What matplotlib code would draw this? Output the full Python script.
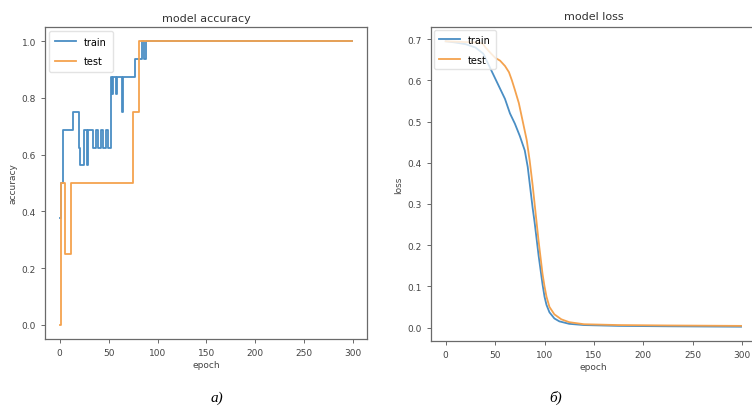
import matplotlib
matplotlib.use("Agg")
import matplotlib.pyplot as plt

# accuracy: epochs where the value changes, and the value from that epoch on
train_acc_epochs = [0, 1, 3, 14, 20, 21, 25, 28, 29, 32, 34, 37, 39, 42, 44, 47, 49, 52,
                    54, 55, 58, 59, 64, 65, 77, 84, 86, 88, 299]
train_acc_values = [0.375, 0.5, 0.6875, 0.75, 0.625, 0.5625, 0.6875, 0.5625, 0.6875, 0.6875,
                    0.625, 0.6875, 0.625, 0.6875, 0.625, 0.6875, 0.625, 0.875,
                    0.8125, 0.875, 0.8125, 0.875, 0.75, 0.875, 0.9375, 1.0, 0.9375, 1.0, 1.0]
test_acc_epochs = [0, 1, 6, 12, 75, 81, 299]
test_acc_values = [0.0, 0.5, 0.25, 0.5, 0.75, 1.0, 1.0]

# loss
train_loss_epochs = [0, 10, 20, 30, 38, 44, 50, 55, 60, 65, 70, 75, 80, 83, 86, 88, 90, 92,
                     94, 96, 98, 100, 102, 105, 110, 115, 125, 140, 175, 225, 299]
train_loss_values = [0.695, 0.692, 0.688, 0.68, 0.665, 0.635, 0.605, 0.58, 0.555, 0.52, 0.495,
                     0.465, 0.43, 0.39, 0.33, 0.29, 0.255, 0.215, 0.175, 0.14, 0.105, 0.075,
                     0.055, 0.037, 0.022, 0.015, 0.009, 0.006, 0.004, 0.003, 0.002]
test_loss_epochs = [0, 10, 20, 30, 37, 41, 46, 50, 55, 60, 64, 67, 70, 74, 78, 82, 85, 88, 90,
                    92, 94, 96, 98, 100, 102, 105, 110, 117, 125, 140, 175, 225, 299]
test_loss_values = [0.695, 0.694, 0.693, 0.692, 0.69, 0.678, 0.665, 0.655, 0.648, 0.635, 0.62,
                    0.6, 0.577, 0.545, 0.5, 0.455, 0.405, 0.345, 0.3, 0.255, 0.21, 0.17, 0.13,
                    0.1, 0.075, 0.05, 0.032, 0.02, 0.013, 0.008, 0.006, 0.005, 0.004]

x_ticks = [0, 50, 100, 150, 200, 250, 300]
blue = "#4a8ec4"
orange = "#f4a24e"


def style_axes(ax):
    for s in ax.spines.values():
        s.set_color("#6a6a6a")
        s.set_linewidth(0.9)
    ax.tick_params(labelsize=6.5, colors="#6a6a6a", labelcolor="#444444", length=3, width=0.7)
    ax.set_xticks(x_ticks)


fig = plt.figure(figsize=(7.52, 4.10), dpi=100)
ax1 = fig.add_axes([0.0598, 0.1707, 0.4282, 0.761])
ax2 = fig.add_axes([0.5731, 0.1659, 0.432, 0.7658])

ax1.step(train_acc_epochs, train_acc_values, where="post", color=blue, lw=1.3, label="train")
ax1.step(test_acc_epochs, test_acc_values, where="post", color=orange, lw=1.3, label="test")
ax1.set_title("model accuracy", fontsize=8, pad=4, color="#333333")
ax1.set_xlabel("epoch", fontsize=6.5, color="#444444", labelpad=2)
ax1.set_ylabel("accuracy", fontsize=6.5, color="#444444", labelpad=3)
ax1.set_yticks([0.0, 0.2, 0.4, 0.6, 0.8, 1.0])
style_axes(ax1)
ax1.legend(loc="upper left", fontsize=7, edgecolor="#dddddd", handlelength=2.2,
           borderpad=0.6, labelspacing=1.0, borderaxespad=0.4)

ax2.plot(train_loss_epochs, train_loss_values, color=blue, lw=1.3, label="train")
ax2.plot(test_loss_epochs, test_loss_values, color=orange, lw=1.3, label="test")
ax2.set_title("model loss", fontsize=8, pad=6, color="#333333")
ax2.set_xlabel("epoch", fontsize=6.5, color="#444444", labelpad=2)
ax2.set_ylabel("loss", fontsize=6.5, color="#444444", labelpad=3)
ax2.set_yticks([0.0, 0.1, 0.2, 0.3, 0.4, 0.5, 0.6, 0.7])
style_axes(ax2)
ax2.legend(loc="upper left", fontsize=7, edgecolor="#dddddd", handlelength=2.2,
           borderpad=0.5, labelspacing=1.0, borderaxespad=0.3)

fig.text(217 / 752, 1 - 398 / 410, "а)", fontsize=11, style="italic",
         family="Liberation Serif", ha="center", va="center")
fig.text(556 / 752, 1 - 398 / 410, "б)", fontsize=11, style="italic",
         family="Liberation Serif", ha="center", va="center")

fig.savefig("out.png", dpi=100)
